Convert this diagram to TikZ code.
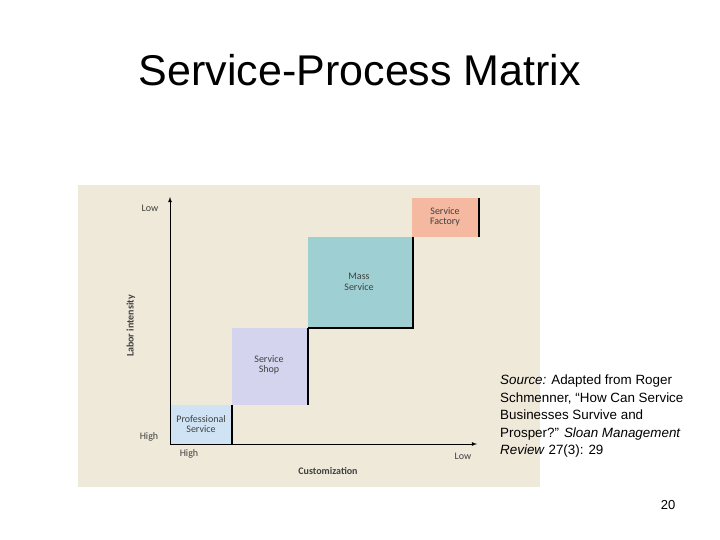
\documentclass[tikz,border=0pt]{standalone}
\usepackage{fontspec}
\setmainfont{Liberation Sans}
\newfontfamily\chartfont{Carlito}
\begin{document}
\begin{tikzpicture}[x=1pt,y=-1pt,
  lbl/.style={font=\chartfont\fontsize{10}{10.5}\selectfont,text=black!75,align=center,inner sep=0pt},
  boxs/.style={draw=none}]
\useasboundingbox (0,0) rectangle (720,540);
\fill[white] (0,0) rectangle (720,540);
\node (title) at (360,70) {\fontsize{43}{48}\selectfont Service-Process Matrix};
\fill[color={rgb,255:red,239;green,233;blue,218}] (78,185) rectangle (540,487);
\definecolor{pro}{RGB}{207,227,245}
\definecolor{shop}{RGB}{212,212,238}
\definecolor{mass}{RGB}{158,207,211}
\definecolor{fac}{RGB}{245,184,160}
\fill[pro] (170,405) rectangle (232,444);
\fill[shop] (232,328) rectangle (308,405);
\fill[mass] (308,237) rectangle (412,328);
\fill[fac] (412,198) rectangle (479,237);
\draw[line width=1.2pt] (232,405) -- (232,444);
\draw[line width=1.2pt] (308,328) -- (308,405);
\draw[line width=1.2pt] (308,328) -- (413,328) -- (413,237);
\draw[line width=1.2pt] (479,198) -- (479,237);
\node[lbl] (p) at (201,424) {Professional\\Service};
\node[lbl] (s) at (269,365) {Service\\Shop};
\node[lbl] (m) at (359,282) {Mass\\Service};
\node[lbl] (f) at (445,217) {Service\\Factory};
\coordinate (o) at (170,444);
\coordinate (yt) at (170,197);
\coordinate (xt) at (477,444);
\draw[line width=0.8pt,-latex] (o) -- (yt);
\draw[line width=0.8pt,-latex] (o) -- (xt);
\node[lbl] (ylow) at (150,208) {Low};
\node[lbl] (yhigh) at (149,437) {High};
\node[lbl] (xhigh) at (189,454) {High};
\node[lbl] (xlow) at (463,456) {Low};
\node[lbl,font=\chartfont\bfseries\fontsize{10}{10.5}\selectfont,rotate=90] (yl) at (131,326) {Labor intensity};
\node[lbl,font=\chartfont\bfseries\fontsize{10}{10.5}\selectfont] (xl) at (328,471) {Customization};
\node[anchor=north west,align=left,inner sep=0pt,font=\fontsize{13.4}{17.5}\selectfont] (src) at (500,375) {\textit{Source:} Adapted from Roger\\Schmenner, ``How Can Service\\Businesses Survive and\\Prosper?'' \textit{Sloan Management}\\\textit{Review} 27(3): 29};
\node (pg) at (668,505) {\fontsize{13}{15}\selectfont 20};
\end{tikzpicture}
\end{document}
